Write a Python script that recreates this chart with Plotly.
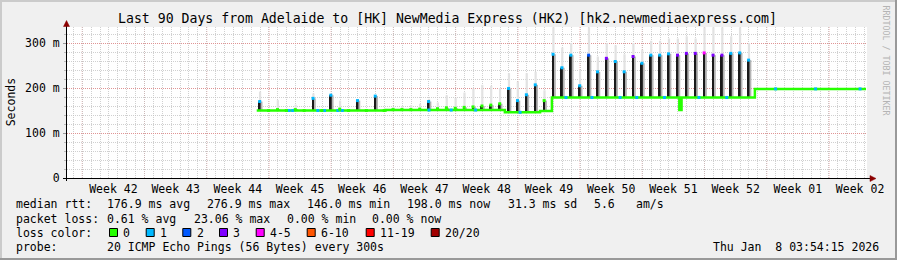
import plotly.graph_objects as go
import pandas as pd

# ---------------- data ----------------
TITLE = "Last 90 Days from Adelaide to [HK] NewMedia Express (HK2) [hk2.newmediaexpress.com]"
X_START = "2025-10-11 06:43"
X_END = "2026-01-09 06:43"

WEEK_STARTS = ["2025-10-13", "2025-10-20", "2025-10-27", "2025-11-03", "2025-11-10",
               "2025-11-17", "2025-11-24", "2025-12-01", "2025-12-08", "2025-12-15",
               "2025-12-22", "2025-12-29", "2026-01-05"]
WEEK_LABEL_POS = ["2025-10-16 12:00", "2025-10-23 12:00", "2025-10-30 12:00", "2025-11-06 12:00",
                  "2025-11-13 12:00", "2025-11-20 12:00", "2025-11-27 12:00", "2025-12-04 12:00",
                  "2025-12-11 12:00", "2025-12-18 12:00", "2025-12-25 12:00", "2026-01-01 12:00",
                  "2026-01-08 12:00"]
WEEK_LABELS = ["Week 42", "Week 43", "Week 44", "Week 45", "Week 46", "Week 47", "Week 48",
               "Week 49", "Week 50", "Week 51", "Week 52", "Week 01", "Week 02"]

Y_TICKS = [0, 100, 200, 300]
Y_TICK_LABELS = ["0", "100 m", "200 m", "300 m"]

# baseline median rtt (ms), step changes
BASE_TIME = ["2025-11-01 15:00", "2025-11-16 03:00", "2025-11-29 13:00", "2025-12-03 12:00",
             "2025-12-04 20:00", "2025-12-19 04:00", "2025-12-19 10:00", "2025-12-27 16:00",
             "2026-01-09 04:00"]
BASE_RTT = [150, 151, 146, 149, 179, 151, 179, 198, 198]

# daily evening spikes
SPIKE_FIRST_DAY = "2025-11-01"
SPIKE_LAST_DAY = "2025-12-26"
SPIKE_HOUR = 23
SPIKE_PEAK = [170, 150, 152, 150, 152, 150, 177, 150, 184, 153,
              150, 172, 150, 182, 150, 152, 152, 152, 153, 170,
              154, 156, 155, 157, 158, 160, 162, 165, 199, 172,
              185, 207, 172, 275, 245, 273, 205, 273, 236, 266,
              259, 236, 270, 255, 273, 273, 276, 273, 277, 277,
              278, 273, 273, 277, 278, 262]
SPIKE_SMOKE = [192, 153, 173, 154, 163, 153, 188, 153, 187, 172,
               153, 175, 153, 184, 154, 158, 160, 162, 165, 176,
               168, 184, 178, 190, 199, 207, 205, 200, 233, 214,
               233, 236, 195, 335, 290, 300, 240, 335, 270, 300,
               295, 275, 300, 285, 305, 305, 310, 310, 315, 310,
               335, 335, 335, 315, 335, 300]
SPIKE_LOSS = [1, 0, 0, 0, 0, 0, 1, 0, 1, 0,
              0, 1, 0, 1, 0, 0, 0, 0, 0, 1,
              0, 0, 0, 0, 0, 0, 0, 0, 1, 1,
              1, 1, 0, 1, 1, 1, 1, 2, 1, 3,
              1, 1, 3, 1, 1, 1, 1, 3, 3, 3,
              4, 3, 3, 1, 1, 1]

# short stretches of 1/20 loss on the baseline
LOSS1_TIME = ["2025-11-05 06:00", "2025-11-05 16:00", "2025-11-08 12:00", "2025-11-09 06:00",
              "2025-11-10 18:00", "2025-11-11 06:00", "2025-11-21 00:00", "2025-11-23 12:00",
              "2025-11-26 06:00", "2025-12-01 06:00", "2025-12-06 10:00", "2025-12-09 08:00",
              "2025-12-12 12:00", "2025-12-14 09:00", "2025-12-17 12:00", "2025-12-21 09:00",
              "2025-12-24 12:00", "2025-12-30 00:00", "2026-01-03 12:00", "2026-01-08 12:00"]

LOSS_LABELS = ["0", "1", "2", "3", "4-5", "6-10", "11-19", "20/20"]
LOSS_COLORS = ["#26ff00", "#00b8ff", "#0059ff", "#7e00ff", "#ff00ff", "#ff5500", "#ff0000", "#a10000"]

STATS_RTT = [("median rtt:", 16), ("176.9 ms avg", 107.3), ("276.9 ms max", 207.3),
             ("146.0 ms min", 307.3), ("198.0 ms now", 407.3), ("31.3 ms sd", 507.7),
             ("5.6", 594), ("am/s", 635.7)]
STATS_LOSS = [("packet loss:", 16), ("0.61 % avg", 107.3), ("23.06 % max", 193.7),
              ("0.00 % min", 286.7), ("0.00 % now", 372.3)]
PROBE = [("probe:", 16), ("20 ICMP Echo Pings (56 Bytes) every 300s", 107.3),
         ("Thu Jan  8 03:54:15 2026", 713.3)]
BOX_X = [109, 145.7, 182.3, 219, 255.7, 306.7, 365.7, 430.7]

# ---------------- layout geometry (pixels) ----------------
W, H = 897, 260
L, R, T, B = 67, 867, 27, 178
PW, PH = R - L, B - T
FONT = "DejaVu Sans Mono"


def fx(p):
    return (p - L) / PW


def fy(p):
    return (B - p) / PH


base_t = pd.to_datetime(BASE_TIME)


def base_at(t):
    idx = (base_t <= t).sum() - 1
    return BASE_RTT[max(idx, 0)]


spike_t = pd.date_range(SPIKE_FIRST_DAY, SPIKE_LAST_DAY, freq="D") + pd.Timedelta(hours=SPIKE_HOUR)
spike_base = [base_at(t) for t in spike_t]
HOUR_MS = 3600 * 1000

fig = go.Figure()

# light smoke
fig.add_trace(go.Bar(x=spike_t + pd.Timedelta(hours=1), y=[s - b for s, b in zip(SPIKE_SMOKE, spike_base)],
                     base=spike_base, width=6 * HOUR_MS, marker=dict(color="#e2e2e2", line_width=0)))
# darker smoke tail
fig.add_trace(go.Bar(x=spike_t + pd.Timedelta(hours=4), y=[p - b for p, b in zip(SPIKE_PEAK, spike_base)],
                     base=spike_base, width=7 * HOUR_MS, marker=dict(color="#b4b4b4", line_width=0)))
# dense core
fig.add_trace(go.Bar(x=spike_t, y=[p - b for p, b in zip(SPIKE_PEAK, spike_base)],
                     base=spike_base, width=5 * HOUR_MS, marker=dict(color="#1a1a1a", line_width=0)))

# median line
fig.add_trace(go.Scatter(x=base_t, y=BASE_RTT, mode="lines", line=dict(color=LOSS_COLORS[0], width=2.5, shape="hv")))

# loss-1 specks on the median line
l1 = pd.to_datetime(LOSS1_TIME)
fig.add_trace(go.Scatter(x=l1, y=[base_at(t) for t in l1], mode="markers",
                         marker=dict(symbol="square", size=3, color=LOSS_COLORS[1], line_width=0)))

# median at spike tops, coloured by loss
fig.add_trace(go.Scatter(x=spike_t, y=SPIKE_PEAK, mode="markers",
                         marker=dict(symbol="square", size=3, color=[LOSS_COLORS[i] for i in SPIKE_LOSS],
                                     line_width=0)))

shapes = []
# week lines
for w in WEEK_STARTS:
    shapes.append(dict(type="line", xref="x", yref="paper", x0=w, x1=w, y0=0, y1=1, layer="below",
                       line=dict(color="rgba(230,128,128,0.75)", width=1, dash="1px,1px")))
# axes
shapes.append(dict(type="line", xref="paper", yref="paper", x0=fx(66.5), x1=fx(66.5), y0=fy(181), y1=fy(25),
                   line=dict(color="black", width=1)))
shapes.append(dict(type="line", xref="paper", yref="paper", x0=fx(63), x1=fx(871), y0=fy(178.5), y1=fy(178.5),
                   line=dict(color="black", width=1)))
shapes.append(dict(type="path", xref="paper", yref="paper",
                   path=f"M {fx(63.5)} {fy(26.5)} L {fx(66.5)} {fy(20.5)} L {fx(69.5)} {fy(26.5)} Z",
                   fillcolor="#8b0000", line=dict(color="#8b0000", width=0.5)))
shapes.append(dict(type="path", xref="paper", yref="paper",
                   path=f"M {fx(870)} {fy(175.5)} L {fx(876)} {fy(178.5)} L {fx(870)} {fy(181.5)} Z",
                   fillcolor="#8b0000", line=dict(color="#8b0000", width=0.5)))
# outer border
shapes.append(dict(type="rect", xref="paper", yref="paper", x0=fx(0), x1=fx(W), y0=fy(0), y1=fy(2),
                   fillcolor="#cbcbcb", line_width=0))
shapes.append(dict(type="rect", xref="paper", yref="paper", x0=fx(0), x1=fx(2), y0=fy(0), y1=fy(H),
                   fillcolor="#cbcbcb", line_width=0))
shapes.append(dict(type="rect", xref="paper", yref="paper", x0=fx(0), x1=fx(W), y0=fy(H - 2), y1=fy(H),
                   fillcolor="#999999", line_width=0))
shapes.append(dict(type="rect", xref="paper", yref="paper", x0=fx(W - 2), x1=fx(W), y0=fy(0), y1=fy(H),
                   fillcolor="#999999", line_width=0))
# loss colour boxes
for bx, c in zip(BOX_X, LOSS_COLORS):
    shapes.append(dict(type="rect", xref="paper", yref="paper", x0=fx(bx + 0.5), x1=fx(bx + 8.5),
                       y0=fy(228.5), y1=fy(236.5), fillcolor=c, line=dict(color="black", width=1)))

ann = []


def text(s, xp, yp, size=11.5, xanchor="left", color="black", angle=0):
    ann.append(dict(text=s.replace(" ", "\u00a0"), x=fx(xp), y=fy(yp), xref="paper", yref="paper",
                    xanchor=xanchor, yanchor="middle", showarrow=False, textangle=angle,
                    borderpad=0, borderwidth=0, font=dict(family=FONT, size=size, color=color)))


text(TITLE, 447, 19, size=13.2, xanchor="center")
text("Seconds", 11, 102.3, xanchor="center", angle=-90)
text("RRDTOOL / TOBI OETIKER", 885.5, 60, size=8.3, xanchor="center", color="#b4b4b4", angle=90)
for s, xp in STATS_RTT:
    text(s, xp, 204.5)
for s, xp in STATS_LOSS:
    text(s, xp, 218.5)
text("loss color:", 16, 232.5)
for bx, lab in zip(BOX_X, LOSS_LABELS):
    text(lab, bx + 14.3, 232.5)
for s, xp in PROBE:
    text(s, xp, 246.5)

fig.update_layout(
    width=W, height=H, autosize=False,
    margin=dict(l=L, r=W - R, t=T, b=H - B, pad=0),
    paper_bgcolor="#f0f0f0", plot_bgcolor="white",
    showlegend=False, barmode="overlay", hovermode=False,
    shapes=shapes, annotations=ann,
    font=dict(family=FONT, size=11.5, color="black"),
    xaxis=dict(type="date", range=[X_START, X_END], tickmode="array", tickvals=WEEK_LABEL_POS,
               ticktext=WEEK_LABELS, showgrid=False, zeroline=False, showline=False, ticks="",
               ticklabelstandoff=2, tickfont=dict(family=FONT, size=11.5, color="black"),
               minor=dict(tickmode="linear", tick0="2025-10-13", dtick=86400000, showgrid=True,
                          gridcolor="rgba(192,192,192,0.75)", griddash="1px,1px", gridwidth=1, ticks="")),
    yaxis=dict(range=[0, 335.6], tickmode="array", tickvals=Y_TICKS, ticktext=Y_TICK_LABELS,
               showgrid=True, gridcolor="rgba(230,128,128,0.75)", griddash="1px,1px", gridwidth=1,
               zeroline=False, showline=False, ticks="outside", ticklen=3, tickcolor="#999999",
               ticklabelstandoff=1, tickfont=dict(family=FONT, size=11.5, color="black"),
               minor=dict(dtick=20, showgrid=True, gridcolor="rgba(192,192,192,0.75)",
                          griddash="1px,1px", gridwidth=1, ticks="outside", ticklen=2,
                          tickcolor="#bbbbbb")),
)

fig.write_html("out.html")
